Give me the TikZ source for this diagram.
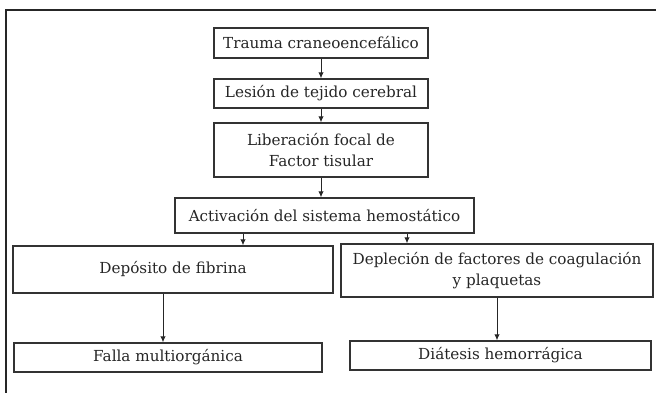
\documentclass[tikz,border=0pt]{standalone}
\usepackage{fontspec}
\setmainfont{DejaVu Serif}
\usetikzlibrary{arrows.meta}
\tikzset{
  box/.style n args={2}{draw=black!80, line width=1.4pt, minimum width=#1, minimum height=#2,
    inner sep=0pt, align=center, text=black!85, font=\fontsize{15.2}{21}\selectfont},
  arr/.style={draw=black!85, line width=1pt, -{Latex[length=6pt,width=5.5pt]}},
  frame/.style={draw=black!85, line width=1.6pt}
}
\begin{document}
\begin{tikzpicture}[x=1pt,y=-1pt]
\useasboundingbox (0,0) rectangle (656,393);
\draw[frame] (6,393) -- (6,10) -- (656,10);
\node[box={214}{30}] (b1) at (321,43) {Trauma craneoencefálico};
\node[box={214}{29}] (b2) at (321,93.5) {Lesión de tejido cerebral};
\node[box={214}{54}] (b3) at (321,150) {Liberación focal de\\Factor tisular};
\node[box={299}{35}] (b4) at (324.5,215.5) {Activación del sistema hemostático};
\node[box={320}{47}] (b5) at (173,269.5) {Depósito de fibrina};
\node[box={312}{53}] (b6) at (497,270.5) {Depleción de factores de coagulación\\y plaquetas};
\node[box={308}{29}] (b7) at (168,357.5) {Falla multiorgánica};
\node[box={301}{29}] (b8) at (500.5,355.5) {Diátesis hemorrágica};
\coordinate (xa) at (243,0);
\coordinate (xb) at (407,0);
\coordinate (xc) at (163,0);
\coordinate (xd) at (497,0);
\draw[arr] (b1) -- (b2);
\draw[arr] (b2) -- (b3);
\draw[arr] (b3.south) -- (b3.south |- b4.north);
\draw[arr] (b4.south -| xa) -- (b5.north -| xa);
\draw[arr] (b4.south -| xb) -- (b6.north -| xb);
\draw[arr] (b5.south -| xc) -- (b7.north -| xc);
\draw[arr] (b6.south -| xd) -- (b8.north -| xd);
\end{tikzpicture}
\end{document}
